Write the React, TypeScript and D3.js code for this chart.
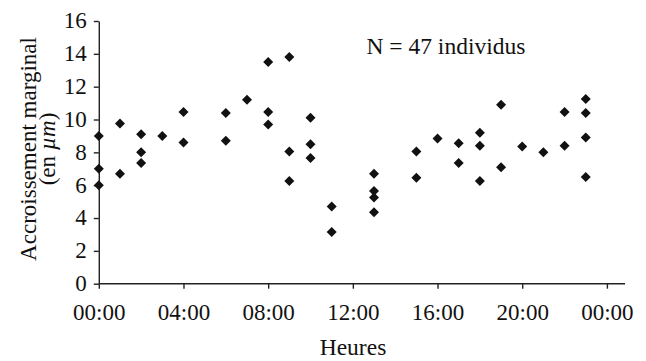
import React, { useEffect, useRef, FC } from "react";
import * as d3 from "d3";

// hours of the sampling (one entry per fish)
const heures = [
  0, 0, 0, 1, 1, 2, 2, 2, 3, 4, 4, 6, 6, 7, 8, 8, 8, 9, 9, 9, 10, 10, 10, 11, 11,
  13, 13, 13, 13, 15, 15, 16, 17, 17, 18, 18, 18, 19, 19, 20, 21, 22, 22, 23, 23, 23, 23,
];
// marginal increment (µm)
const accroissement = [
  9.0, 7.0, 6.0, 9.75, 6.7, 9.1, 8.0, 7.35, 9.0, 10.45, 8.6, 10.4, 8.7, 11.2, 13.5, 10.45, 9.7,
  13.8, 8.05, 6.25, 10.1, 8.5, 7.65, 4.7, 3.15, 6.7, 5.65, 5.25, 4.35, 8.05, 6.45, 8.85, 8.55,
  7.35, 9.2, 8.4, 6.25, 10.9, 7.1, 8.35, 8.0, 10.45, 8.4, 11.25, 10.4, 8.9, 6.5,
];
const xTicks = [0, 4, 8, 12, 16, 20, 24];
const xTickLabels = ["00:00", "04:00", "08:00", "12:00", "16:00", "20:00", "00:00"];
const yTicks = [0, 2, 4, 6, 8, 10, 12, 14, 16];

const W = 646;
const H = 361;
const FONT = "'Liberation Serif', 'Times New Roman', serif";

const App: FC = () => {
  const canvas = useRef<SVGSVGElement>(null);

  useEffect(() => {
    const svg = d3.select(canvas.current);
    svg.html("");

    const x = d3.scaleLinear().domain([0, 24]).range([98.8, 606.9]);
    const y = d3.scaleLinear().domain([0, 16]).range([283.7, 21]);

    // axes
    const xAxis = svg
      .append("g")
      .attr("transform", `translate(0,${y(0)})`)
      .call(
        d3
          .axisBottom(x)
          .tickValues(xTicks)
          .tickFormat((d, i) => xTickLabels[i])
          .tickSize(5)
          .tickSizeOuter(0)
          .tickPadding(15)
      );
    xAxis.select(".domain").attr("d", `M${x(0)},0H625`);

    const yAxis = svg
      .append("g")
      .attr("transform", `translate(${x(0)},0)`)
      .call(d3.axisLeft(y).tickValues(yTicks).tickSize(5).tickSizeOuter(0).tickPadding(7));

    [xAxis, yAxis].forEach((g) => {
      g.selectAll("path, line").attr("stroke", "#222").attr("stroke-width", 1.4);
      g.selectAll("text")
        .attr("fill", "#111")
        .style("font-family", FONT)
        .style("font-size", "23px");
    });
    yAxis.selectAll("text").attr("dy", "0.3em");

    // points
    const diamond = d3.symbol().type(d3.symbolSquare).size(50);
    svg
      .append("g")
      .selectAll("path")
      .data(heures.map((h, i) => ({ h, v: accroissement[i] })))
      .join("path")
      .attr("d", diamond as any)
      .attr("transform", (d) => `translate(${x(d.h)},${y(d.v)}) rotate(45)`)
      .attr("fill", "#111");

    // annotation
    svg
      .append("text")
      .attr("x", 366.5)
      .attr("y", 54)
      .style("font-family", FONT)
      .style("font-size", "23.5px")
      .attr("fill", "#111")
      .text("N = 47 individus");

    // axis titles
    svg
      .append("text")
      .attr("x", 353)
      .attr("y", 355)
      .attr("text-anchor", "middle")
      .style("font-family", FONT)
      .style("font-size", "23.5px")
      .attr("fill", "#111")
      .text("Heures");

    const yt = svg
      .append("text")
      .attr("transform", "translate(36,149) rotate(-90)")
      .attr("text-anchor", "middle")
      .style("font-family", FONT)
      .style("font-size", "23px")
      .attr("fill", "#111");
    yt.append("tspan").attr("x", 0).attr("dy", 0).text("Accroissement marginal");
    const t2 = yt.append("tspan").attr("x", 0).attr("dy", 19);
    t2.append("tspan").text("(en ");
    t2.append("tspan").style("font-style", "italic").text("µm");
    t2.append("tspan").text(")");
  }, []);

  return (
    <svg
      ref={canvas}
      width={W}
      height={H}
      style={{ position: "absolute", left: 0, top: 0, background: "#fff" }}
    ></svg>
  );
};

export default App;
